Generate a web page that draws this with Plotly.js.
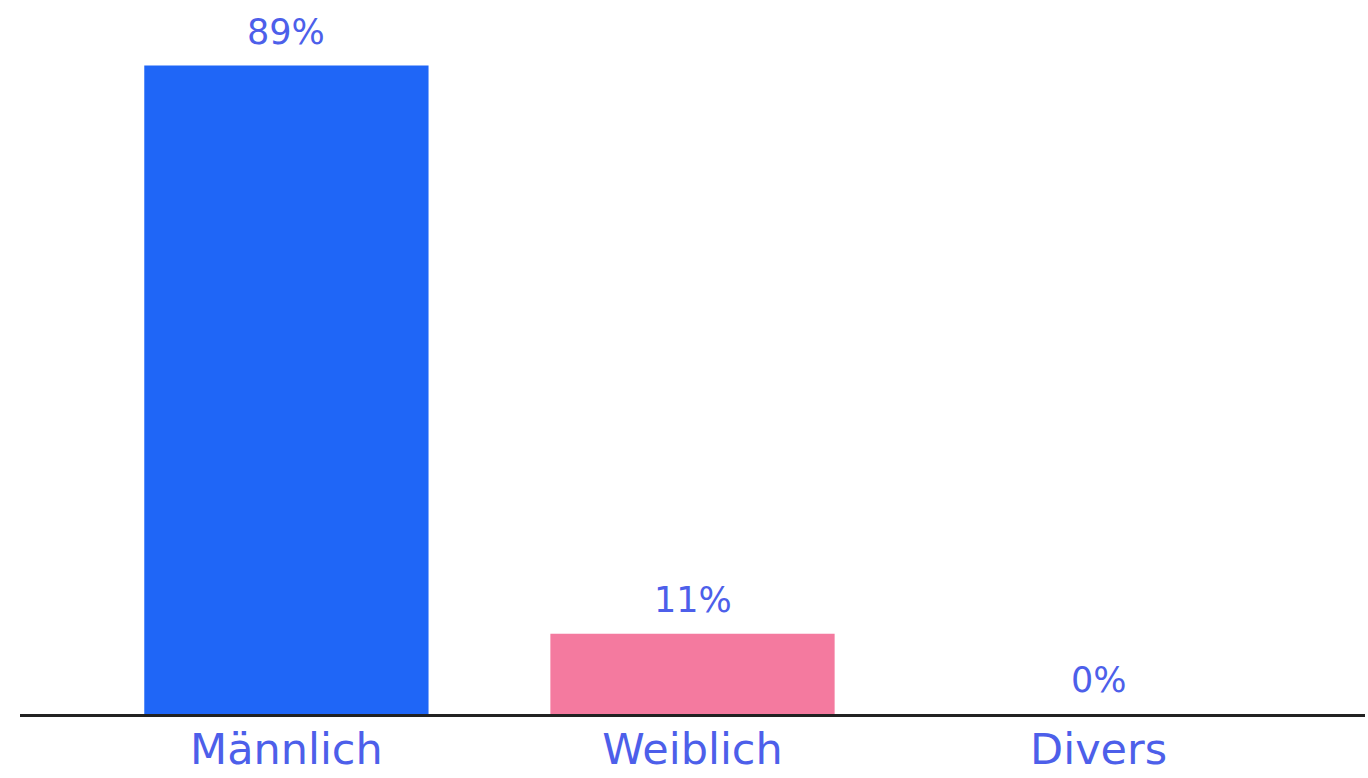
<!DOCTYPE html>
<html>
<head>
<meta charset="utf-8">
<script src="https://cdn.plot.ly/plotly-3.0.1.min.js"></script>
<style>
html,body{margin:0;padding:0;background:#fff;}
#chart{width:1368px;height:778px;}
</style>
</head>
<body>
<div id="chart"></div>
<script>
const categories = ["Männlich", "Weiblich", "Divers"];
const values = [89, 11, 0];
const valueLabels = ["89%", "11%", "0%"];
const barColors = ["#1f66f7", "#f47a9f"];

const textColor = "#4d5fea";
const fontFamily = "'DejaVu Sans', sans-serif";

const trace = {
  type: "bar",
  x: categories,
  y: values,
  marker: {color: [barColors[0], barColors[1], barColors[1]]},
  hoverinfo: "skip"
};

const annotations = categories.map((c, i) => ({
  x: c,
  y: values[i],
  xref: "x",
  yref: "y",
  text: valueLabels[i],
  showarrow: false,
  yanchor: "bottom",
  yshift: 12,
  font: {family: fontFamily, size: 35, color: textColor}
}));

const layout = {
  width: 1368,
  height: 778,
  margin: {l: 20, r: 3, t: 0, b: 64},
  paper_bgcolor: "#ffffff",
  plot_bgcolor: "#ffffff",
  showlegend: false,
  bargap: 0.3,
  xaxis: {
    type: "category",
    range: [-0.656, 2.656],
    showline: true,
    linecolor: "#222222",
    linewidth: 3,
    ticks: "",
    ticklabelstandoff: -5,
    showgrid: false,
    zeroline: false,
    tickfont: {family: fontFamily, size: 43, color: textColor},
    fixedrange: true
  },
  yaxis: {
    range: [0, 98],
    visible: false,
    showgrid: false,
    zeroline: false,
    fixedrange: true
  },
  annotations: annotations
};

Plotly.newPlot("chart", [trace], layout, {displayModeBar: false, staticPlot: true});
</script>
</body>
</html>
